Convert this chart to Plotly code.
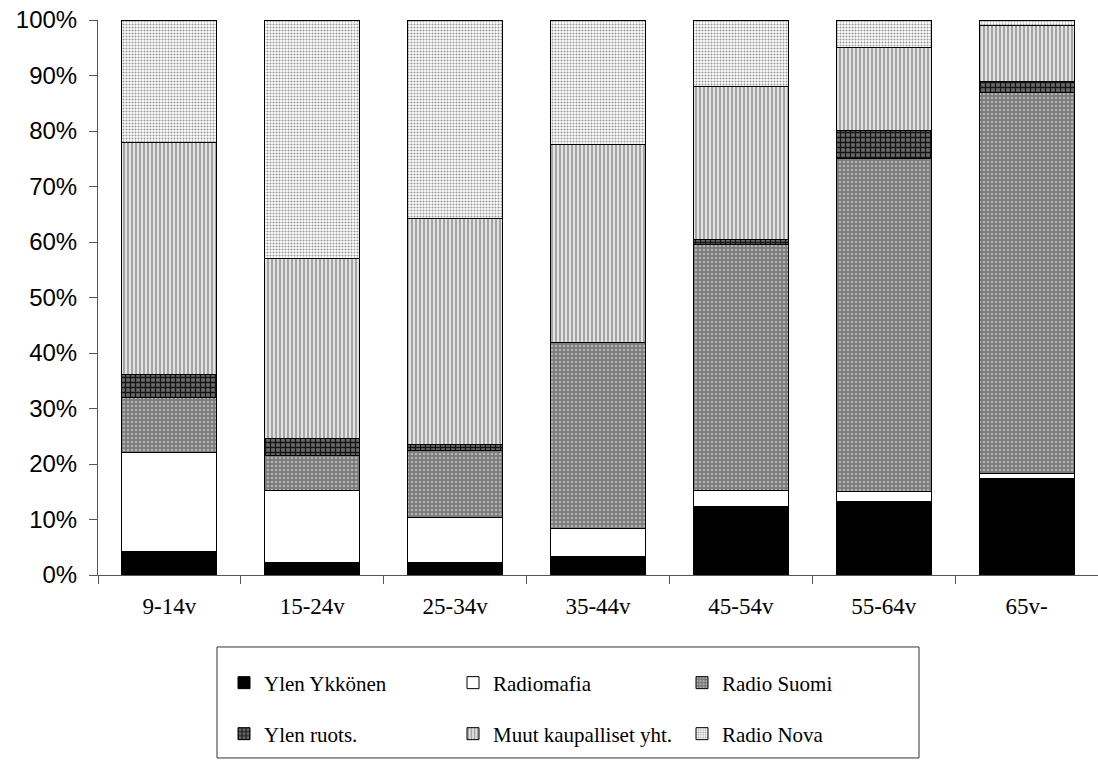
import plotly.graph_objects as go

# Age groups on the x axis
age_groups = ["9-14v", "15-24v", "25-34v", "35-44v", "45-54v", "55-64v", "65v-"]

# Listening share (%) per channel, stacked bottom to top
ylen_ykkonen = [4.2, 2.3, 2.3, 3.3, 12.4, 13.2, 17.3]
radiomafia = [17.8, 13.0, 8.0, 5.0, 2.8, 1.8, 0.9]
radio_suomi = [10.0, 6.2, 12.2, 33.6, 44.4, 60.0, 68.7]
ylen_ruots = [4.2, 3.1, 1.1, 0.0, 0.9, 5.1, 2.0]
muut_kaupalliset = [41.8, 32.5, 40.6, 35.7, 27.5, 14.9, 10.1]
radio_nova = [22.0, 42.9, 35.8, 22.4, 12.0, 5.0, 1.0]

y_ticks = [0, 10, 20, 30, 40, 50, 60, 70, 80, 90, 100]
y_tick_labels = ["0%", "10%", "20%", "30%", "40%", "50%", "60%", "70%", "80%", "90%", "100%"]

series = [
    ("Ylen Ykkönen", ylen_ykkonen, dict(shape="", bgcolor="black", fgcolor="black"), "legend"),
    ("Radiomafia", radiomafia, dict(shape="", bgcolor="white", fgcolor="white"), "legend"),
    ("Radio Suomi", radio_suomi,
     dict(shape=".", bgcolor="#7a7a7a", fgcolor="#b4b4b4", size=4, solidity=0.35), "legend"),
    ("Ylen ruots.", ylen_ruots,
     dict(shape="+", bgcolor="#6a6a6a", fgcolor="#151515", size=5, solidity=0.45), "legend2"),
    ("Muut kaupalliset yht.", muut_kaupalliset,
     dict(shape="|", bgcolor="#e2e2e2", fgcolor="#8a8a8a", size=4, solidity=0.35), "legend2"),
    ("Radio Nova", radio_nova,
     dict(shape=".", bgcolor="#ffffff", fgcolor="#9a9a9a", size=3, solidity=0.4), "legend2"),
]

fig = go.Figure()
for name, vals, pat, leg in series:
    fig.add_trace(go.Bar(
        x=age_groups, y=vals, name=name, legend=leg,
        marker=dict(color=pat["bgcolor"], line=dict(color="black", width=1),
                    pattern=dict(fillmode="replace", **pat)),
    ))

axis_color = "#555555"
legend_font = dict(family="Liberation Serif", size=21, color="black")
item_width = 184

fig.update_layout(
    width=1098, height=760,
    margin=dict(l=98, r=0, t=20, b=185),
    paper_bgcolor="white", plot_bgcolor="white",
    barmode="stack", bargap=0.335,
    showlegend=True,
    xaxis=dict(type="category", categoryorder="array", categoryarray=age_groups,
               showline=True, linecolor=axis_color, linewidth=1,
               ticks="outside", ticklen=8, tickcolor=axis_color, tickson="boundaries",
               tickfont=dict(family="Liberation Serif", size=23, color="black"),
               ticklabelstandoff=10, showgrid=False, zeroline=False),
    yaxis=dict(range=[0, 100], tickmode="array", tickvals=y_ticks, ticktext=y_tick_labels,
               showline=True, linecolor=axis_color, linewidth=1,
               ticks="outside", ticklen=8, tickcolor=axis_color,
               tickfont=dict(family="Liberation Sans", size=24, color="black"),
               ticklabelstandoff=7, showgrid=False, zeroline=False),
    # overlay axes carry the inner half of the crossing tick marks
    xaxis2=dict(overlaying="x", anchor="y", range=[-0.5, 6.5], tickvals=[0.5, 1.5, 2.5, 3.5, 4.5, 5.5],
                ticks="inside", ticklen=8, tickcolor=axis_color, showticklabels=False,
                showgrid=False, zeroline=False, showline=False),
    yaxis2=dict(overlaying="y", anchor="x", range=[0, 100], tickvals=y_ticks,
                ticks="inside", ticklen=8, tickcolor=axis_color, showticklabels=False,
                showgrid=False, zeroline=False, showline=False),
    legend=dict(orientation="h", x=0.126, xanchor="left", y=-0.1946, yanchor="middle",
                entrywidth=item_width, entrywidthmode="pixels", font=legend_font,
                bgcolor="rgba(0,0,0,0)", borderwidth=0, traceorder="normal"),
    legend2=dict(orientation="h", x=0.126, xanchor="left", y=-0.2865, yanchor="middle",
                 entrywidth=item_width, entrywidthmode="pixels", font=legend_font,
                 bgcolor="rgba(0,0,0,0)", borderwidth=0, traceorder="normal"),
    shapes=[dict(type="rect", xref="paper", yref="paper",
                 x0=0.119, x1=0.821, y0=-0.3297, y1=-0.1297,
                 line=dict(color="#333333", width=1), fillcolor="rgba(0,0,0,0)")],
)

fig.write_html("out.html")
